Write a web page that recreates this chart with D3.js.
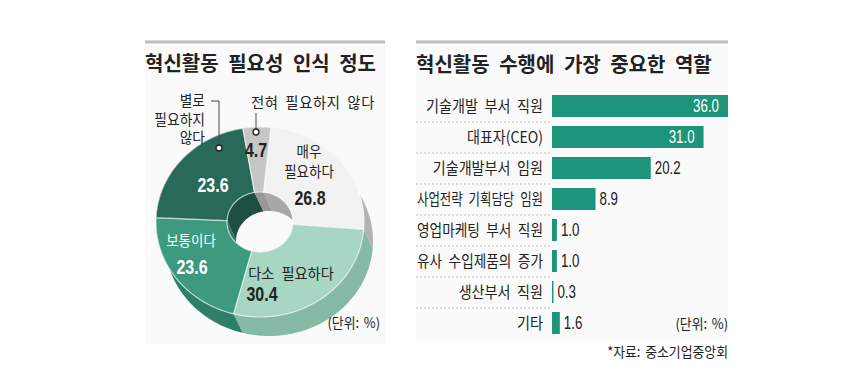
<!DOCTYPE html>
<html>
<head>
<meta charset="utf-8">
<script src="https://cdn.jsdelivr.net/npm/d3@7"></script>
<style>
  body { margin: 0; background: #fff; }
  svg { display: block; }
  text { font-family: "Noto Sans CJK KR", sans-serif; fill: #222; }
  .num { font-family: "Liberation Sans Narrow", "Liberation Sans", sans-serif; }
</style>
</head>
<body>
<div id="chart"></div>
<script>
// donut data
const pieNames = ["매우 필요하다", "다소 필요하다", "보통이다", "별로 필요하지 않다", "전혀 필요하지 않다"];
const pieValues = [26.8, 30.4, 23.6, 23.6, 4.7];
const pieColors = ["#f2f2f2", "#a7d6c2", "#3d9a7e", "#29695a", "#c6c6c6"];
const pieSides = ["#b3b3b3", "#86baa4", "#2e7f67", "#1f5647", "#a3a3a3"];

// bar data
const barLabels = ["기술개발 부서 직원", "대표자(CEO)", "기술개발부서 임원", "사업전략 기획담당 임원",
  "영업마케팅 부서 직원", "유사 수입제품의 증가", "생산부서 직원", "기타"];
const barValues = [36.0, 31.0, 20.2, 8.9, 1.0, 1.0, 0.3, 1.6];

const W = 845, H = 389;
const svg = d3.select("#chart").append("svg")
  .attr("width", W).attr("height", H);

// text helper, sx squeezes the glyphs like the condensed print font
function txt(g, x, y, s, o = {}) {
  const t = g.append("text")
    .attr("class", o.cls || null)
    .attr("transform", `translate(${x},${y}) scale(${o.sx || 1},1)`)
    .attr("text-anchor", o.anchor || "middle")
    .attr("dy", "0.36em")
    .style("font-size", (o.size || 14) + "px")
    .style("font-weight", o.bold ? "bold" : "normal")
    .style("letter-spacing", (o.ls || 0) + "px")
    .style("word-spacing", (o.ws || 0) + "px")
    .style("fill", o.fill || "#222")
    .text(s);
  if (o.maxW) {
    const w = t.node().getComputedTextLength() * (o.sx || 1);
    if (w > o.maxW) t.attr("textLength", o.maxW / (o.sx || 1)).attr("lengthAdjust", "spacingAndGlyphs");
  }
  return t;
}
const f1 = d3.format(".1f");

// ---------- left panel: 3D donut ----------
const left = svg.append("g");
left.append("rect").attr("x", 145).attr("y", 45).attr("width", 240).attr("height", 299).attr("fill", "#fafafa");
left.append("line").attr("x1", 145).attr("x2", 385).attr("y1", 42).attr("y2", 42)
  .attr("stroke", "#bdbdbd").attr("stroke-width", 3);
txt(left, 145, 64, "혁신활동 필요성 인식 정도", { anchor: "start", size: 20, bold: true, ws: 5, maxW: 236 });

const cx = 260, cy = 222, rxO = 104, ryO = 95, rxI = 33, ryI = 30, dep = [9, 19];
function pt(a, t, off) {
  const rx = rxI + (rxO - rxI) * t, ry = ryI + (ryO - ryI) * t;
  return [cx + rx * Math.sin(a) + (off ? dep[0] : 0), cy - ry * Math.cos(a) + (off ? dep[1] : 0)];
}
function arcPts(a0, a1, t, off) {
  const n = Math.max(2, Math.ceil((a1 - a0) / 0.02));
  return d3.range(n + 1).map(i => pt(a0 + (a1 - a0) * i / n, t, off));
}
const start = 6 * Math.PI / 180;
const arcs = d3.pie().sort(null).startAngle(start).endAngle(start + 2 * Math.PI)(pieValues);
const line = d3.line().curve(d3.curveLinearClosed);

// outer side walls, inner walls, then top faces
left.selectAll(".wallO").data(arcs).join("path")
  .attr("d", d => line(arcPts(d.startAngle, d.endAngle, 1, false).concat(arcPts(d.startAngle, d.endAngle, 1, true).reverse())))
  .attr("fill", (d, i) => pieSides[i]);
left.selectAll(".wallI").data(arcs).join("path")
  .attr("d", d => line(arcPts(d.startAngle, d.endAngle, 0, false).concat(arcPts(d.startAngle, d.endAngle, 0, true).reverse())))
  .attr("fill", (d, i) => d3.color(pieSides[i]).darker(0.2));
left.selectAll(".top").data(arcs).join("path")
  .attr("d", d => line(arcPts(d.startAngle, d.endAngle, 1, false).concat(arcPts(d.startAngle, d.endAngle, 0, false).reverse())))
  .attr("fill", (d, i) => pieColors[i])
  .attr("stroke", "rgba(255,255,255,0.6)").attr("stroke-width", 1.2);

// slice labels
const kor = { size: 15, sx: 0.9, ws: 3 };
const num = { cls: "num", size: 21, bold: true, sx: 0.76 };
txt(left, 309, 152, "매우", kor);
txt(left, 309, 172, "필요하다", kor);
txt(left, 310, 197, f1(pieValues[0]), num);
txt(left, 291, 274, "다소 필요하다", { ...kor, sx: 0.95, ws: 4 });
txt(left, 262, 293, f1(pieValues[1]), num);
txt(left, 191, 241, "보통이다", { ...kor, fill: "#fff" });
txt(left, 192, 266, f1(pieValues[2]), { ...num, fill: "#fff" });
txt(left, 213, 184, f1(pieValues[3]), { ...num, fill: "#fff" });
txt(left, 256, 149, f1(pieValues[4]), num);

// callouts
const call = { anchor: "end", size: 14.5, sx: 0.95 };
txt(left, 205, 101, "별로", call);
txt(left, 205, 119.5, "필요하지", call);
txt(left, 205, 138, "않다", call);
left.append("path").attr("d", "M211,101H219V145").attr("fill", "none").attr("stroke", "#444");
left.append("circle").attr("cx", 219).attr("cy", 148).attr("r", 3).attr("fill", "#fff").attr("stroke", "#222").attr("stroke-width", 1.3);
txt(left, 251, 103, pieNames[4], { anchor: "start", size: 15, ls: 0.6, ws: 3, maxW: 124 });
left.append("path").attr("d", "M256,113V129").attr("fill", "none").attr("stroke", "#444");
left.append("circle").attr("cx", 256).attr("cy", 132).attr("r", 3).attr("fill", "#fff").attr("stroke", "#222").attr("stroke-width", 1.3);

txt(left, 380, 323, "(단위: %)", { anchor: "end", size: 14, sx: 0.92, ws: 2 });

// ---------- right panel: bars ----------
const right = svg.append("g");
right.append("rect").attr("x", 416).attr("y", 45).attr("width", 312).attr("height", 296).attr("fill", "#fafafa");
right.append("line").attr("x1", 416).attr("x2", 728).attr("y1", 42).attr("y2", 42)
  .attr("stroke", "#bdbdbd").attr("stroke-width", 3);
txt(right, 416, 65, "혁신활동 수행에 가장 중요한 역할", { anchor: "start", size: 20, bold: true, ws: 5, maxW: 300 });

const x = d3.scaleLinear().domain([0, 36]).range([552, 728]);
const y = d3.scaleBand().domain(barLabels).range([90.5, 338.5]).paddingInner(0.29).paddingOuter(0.145);

right.selectAll(".sep").data(barLabels.slice(0, -1)).join("line")
  .attr("x1", 416).attr("x2", 552)
  .attr("y1", d => y(d) + y.step() - (y.step() - y.bandwidth()) / 2 + 0.5)
  .attr("y2", d => y(d) + y.step() - (y.step() - y.bandwidth()) / 2 + 0.5)
  .attr("stroke", "#bbb").attr("stroke-dasharray", "2,2");

right.selectAll(".bar").data(barValues).join("rect")
  .attr("x", x(0)).attr("y", (d, i) => y(barLabels[i]))
  .attr("width", d => x(d) - x(0)).attr("height", y.bandwidth())
  .attr("fill", "#1d957a");

barLabels.forEach((l, i) => {
  const cyb = y(l) + y.bandwidth() / 2;
  txt(right, 543, cyb, l, { anchor: "end", size: 16, sx: 0.88, ws: 4, maxW: 126 });
  const v = barValues[i];
  const o = { cls: "num", size: 18, sx: 0.74 };
  if (v > 25) txt(right, x(v) - 9, cyb, f1(v), { ...o, anchor: "end", fill: "#fff" });
  else txt(right, x(v) + 4, cyb, f1(v), { ...o, anchor: "start" });
});

txt(right, 728, 324, "(단위: %)", { anchor: "end", size: 14, sx: 0.92, ws: 2 });
txt(right, 728, 352, "*자료: 중소기업중앙회", { anchor: "end", size: 14, sx: 0.92, ws: 2 });
</script>
</body>
</html>
